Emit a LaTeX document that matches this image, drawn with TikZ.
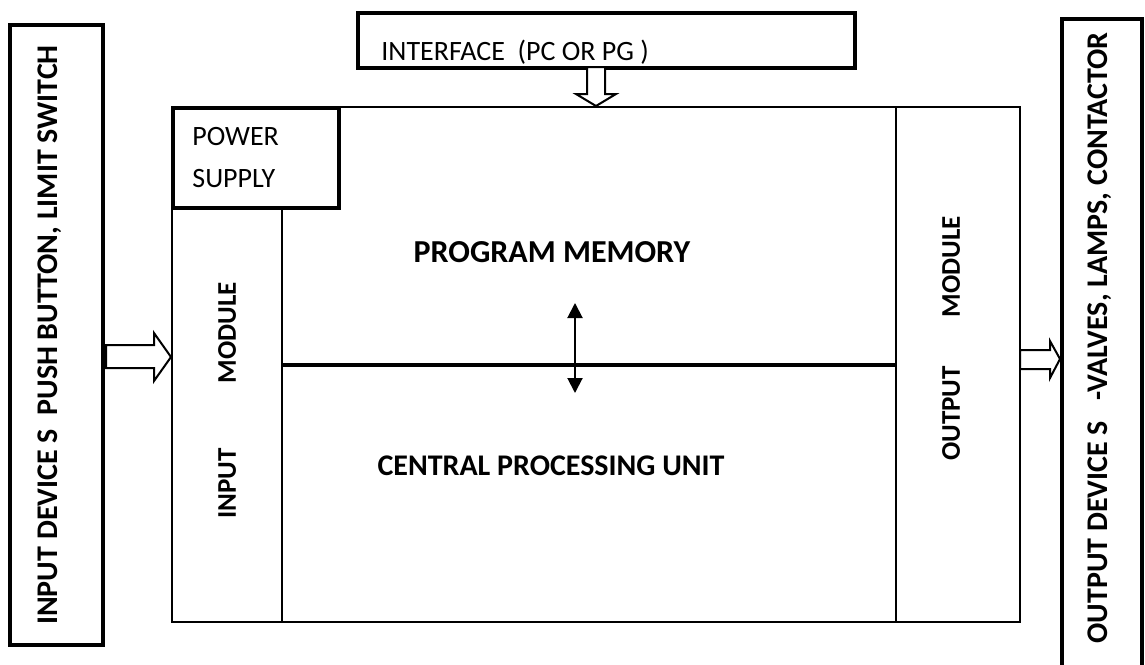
\documentclass[tikz,border=0pt]{standalone}
\usepackage{fontspec}
\setmainfont{Carlito}
\usetikzlibrary{positioning,calc,arrows.meta}
\tikzset{
  thick box/.style={draw, line width=2pt, inner sep=0pt},
  thin box/.style={draw, line width=1pt, inner sep=0pt},
  bold label/.style={font=\fontsize{15}{18}\selectfont\bfseries, inner sep=0pt},
  side label/.style={bold label, rotate=90},
  module label/.style={side label, font=\fontsize{13.5}{16}\selectfont\bfseries},
  plain label/.style={font=\fontsize{14}{21}\selectfont, align=left, inner sep=0pt},
  hollow arrow/.style={draw, line width=1pt, fill=white, line join=miter},
}

\begin{document}
\begin{tikzpicture}[x=0.5pt, y=-0.5pt]
  \useasboundingbox (0,0) rectangle (1145,664);

  % field devices on both sides
  \node[thick box, minimum width=46.5pt, minimum height=310pt] (indev) at (56.5,335) {};
  \node[side label] at (50,335) {INPUT DEVICE S\ \ PUSH BUTTON, LIMIT SWITCH};
  \node[thick box, minimum width=40pt, minimum height=340pt, anchor=north west] (outdev) at (1060,17) {};
  \node[side label] at (1100,338) {OUTPUT DEVICE S\ \ \ -VALVES, LAMPS, CONTACTOR};

  % plc body
  \node[thin box, minimum width=424pt, minimum height=257.5pt] (plc) at (596,364.5) {};
  \node[thick box, minimum width=83pt, minimum height=50pt, anchor=north west] (power) at (plc.north west) {};
  \node[plain label, anchor=west] at ([xshift=10.5pt]power.west) {POWER\\SUPPLY};
  \node[thin box, minimum width=55pt, minimum height=207.5pt, anchor=south west] (inmod) at (plc.south west) {};
  \node[module label] at ([yshift=7pt]inmod.center) {INPUT\hspace{2.4em}MODULE};
  \node[thin box, minimum width=62pt, minimum height=257.5pt, anchor=south east] (outmod) at (plc.south east) {};
  \node[module label] at ([xshift=-3.5pt, yshift=13pt]outmod.center) {OUTPUT\hspace{1.8em}MODULE};

  % memory / cpu split
  \draw[line width=2pt] (inmod.east |- plc.center) -- (outmod.west |- plc.center);
  \node[bold label, font=\fontsize{16}{19}\selectfont\bfseries] (mem) at (552,252) {PROGRAM MEMORY};
  \node[bold label] (cpu) at (551,466) {CENTRAL PROCESSING UNIT};
  \coordinate (bus) at (575,364);
  \draw[line width=1pt, {Triangle[length=7.5pt,width=7.5pt]}-{Triangle[length=7.5pt,width=7.5pt]}]
    ([yshift=30.5pt]bus) -- ([yshift=-14.5pt]bus);

  % programming interface
  \node[thick box, minimum width=248.5pt, minimum height=27.5pt] (iface) at (606.5,40.5) {};
  \node[plain label, anchor=base west] at (381,60) {INTERFACE\ \ (PC OR PG )};

  % block arrows
  \draw[hollow arrow] (plc.north) -- ++(20,-12) -- ++(-11,0) -- ++(0,-27) -- ++(-18,0) -- ++(0,27) -- ++(-11,0) -- cycle;
  \coordinate (intip) at (inmod.west |- 0,357);
  \draw[hollow arrow] (intip) -- ++(-17,-24) -- ++(0,12) -- ++(-48,0) -- ++(0,23) -- ++(48,0) -- ++(0,13) -- cycle;
  \coordinate (outtip) at (outdev.west |- 0,359);
  \draw[hollow arrow] (outtip) -- ++(-10,-18) -- ++(0,9) -- ++(-30,0) -- ++(0,19) -- ++(30,0) -- ++(0,9) -- cycle;
\end{tikzpicture}
\end{document}
